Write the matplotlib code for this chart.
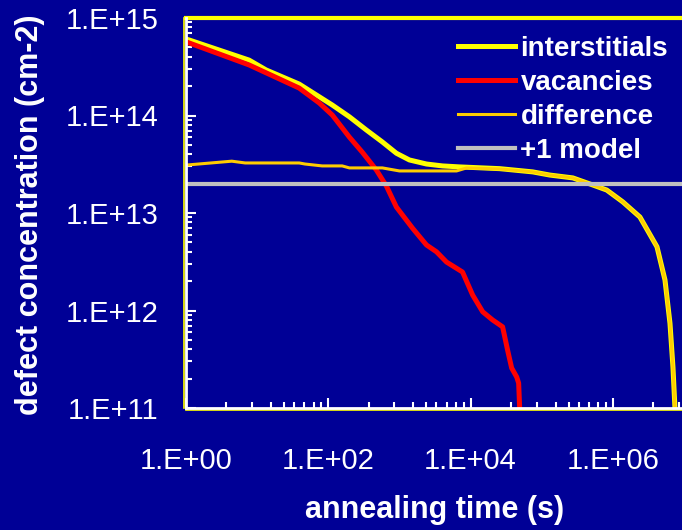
import numpy as np
import matplotlib
matplotlib.use('Agg')
import matplotlib.pyplot as plt
from matplotlib.ticker import FixedLocator, FuncFormatter, LogLocator, NullFormatter
from matplotlib.lines import Line2D
from matplotlib.transforms import offset_copy

plt.rcParams['font.family'] = ['Liberation Sans', 'DejaVu Sans']

# annealing time (s) and concentrations (cm-2)
vac_t = [1, 7.7, 39, 75, 114, 198, 301, 474, 656, 907, 1525, 2400, 3320, 4590,
         7710, 10700, 14800, 20400, 28200, 33200, 37800, 44500, 47400, 49000, 49500]
vac_c = [5.7e14, 3.3e14, 1.91e14, 1.34e14, 1.01e14, 6.0e13, 4.2e13, 2.76e13, 1.89e13,
         1.15e13, 7.0e12, 4.7e12, 4.0e12, 3.14e12, 2.48e12, 1.44e12, 9.7e11, 8.0e11,
         6.8e11, 3.9e11, 2.57e11, 2.08e11, 1.8e11, 1.0e11, 5e10]

dif_t = [1, 4.4, 6.8, 39, 47, 82, 157, 198, 576, 1000, 6350, 8790, 25600, 74700,
         1.3e5, 2.74e5, 5.2e5, 8.2e5, 1.38e6, 2.4e6, 4.17e6, 5.4e6, 6.35e6, 7.0e6,
         7.46e6, 7.5e6]
dif_c = [3.1e13, 3.4e13, 3.26e13, 3.26e13, 3.18e13, 3.04e13, 3.04e13, 2.9e13, 2.9e13,
         2.7e13, 2.7e13, 2.9e13, 2.83e13, 2.64e13, 2.45e13, 2.29e13, 1.94e13, 1.72e13,
         1.30e13, 9.1e12, 4.5e12, 2.06e12, 7.4e11, 2.6e11, 1.0e11, 5e10]

int_t = [1, 7.7, 13.4, 39, 114, 198, 343, 576, 907, 1380, 2400, 4030, 7000, 14800,
         25600, 74700, 1.3e5, 2.74e5, 5.2e5, 8.2e5, 1.38e6, 2.4e6, 4.17e6, 5.4e6,
         6.35e6, 7.0e6, 7.46e6, 7.5e6]
int_c = [6.1e14, 3.7e14, 2.93e14, 2.1e14, 1.28e14, 9.7e13, 7.1e13, 5.35e13, 4.1e13,
         3.5e13, 3.18e13, 3.04e13, 2.97e13, 2.9e13, 2.85e13, 2.64e13, 2.45e13, 2.29e13,
         1.94e13, 1.72e13, 1.30e13, 9.1e12, 4.5e12, 2.06e12, 7.4e11, 2.6e11, 1.0e11, 5e10]

model_t = [1, 1e7]
model_c = [2e13, 2e13]

bg = '#000096'
fig = plt.figure(figsize=(6.82, 5.3), dpi=100, facecolor=bg)
ax = fig.add_axes([186 / 682, 122 / 530, 498 / 682, 390 / 530])
ax.set_facecolor(bg)
ax.set_xscale('log')
ax.set_yscale('log')

ax.plot(int_t, int_c, color='#FFFF00', lw=3.6, label='interstitials')
ax.plot(vac_t, vac_c, color='#FF0000', lw=3.6, label='vacancies')
ax.plot(dif_t, dif_c, color='#FFCC00', lw=2.2, label='difference')
ax.plot(model_t, model_c, color='#C0C0C0', lw=3.0, label='+1 model')

ax.set_xlim(1, 1e7)
ax.set_ylim(1e11, 1e15)

# frame: yellow plot border, white axis lines
ax.spines['right'].set_visible(False)
ax.spines['top'].set_color('#FFFF00')
ax.spines['top'].set_linewidth(3)
for s in ['left', 'bottom']:
    ax.spines[s].set_color('white')
    ax.spines[s].set_linewidth(2)
    ax.spines[s].set_zorder(5)
tb = offset_copy(ax.transAxes, fig=fig, x=0, y=-2, units='dots')
ax.add_line(Line2D([0, 1], [0, 0], transform=tb, color='#FFFF00', lw=1.2, clip_on=False))
tl = offset_copy(ax.transAxes, fig=fig, x=-2, y=0, units='dots')
ax.add_line(Line2D([0, 0], [0, 1], transform=tl, color='#FFFF00', lw=1.2, clip_on=False))

fmt = FuncFormatter(lambda v, p: '1.E+%02d' % int(round(np.log10(v))))
ax.xaxis.set_major_locator(FixedLocator([1, 1e2, 1e4, 1e6]))
minor_mult = [3.7, 8.5, 15.7, 24, 33, 46, 62, 80]
ax.xaxis.set_minor_locator(FixedLocator([b * m for b in [1, 1e2, 1e4, 1e6] for m in minor_mult]))
ax.yaxis.set_major_locator(FixedLocator([1e11, 1e12, 1e13, 1e14, 1e15]))
ax.yaxis.set_minor_locator(LogLocator(base=10, subs=range(2, 10)))
ax.xaxis.set_major_formatter(fmt)
ax.yaxis.set_major_formatter(fmt)
ax.xaxis.set_minor_formatter(NullFormatter())
ax.yaxis.set_minor_formatter(NullFormatter())

ax.tick_params(which='both', direction='in', colors='white', labelsize=21, width=1.5)
ax.tick_params(which='major', length=7)
ax.tick_params(which='minor', length=4.5)
ax.tick_params(axis='x', which='both', pad=28)
ax.tick_params(axis='y', which='both', pad=20)

fig.text(30 / 682, 1 - 215 / 530, 'defect concentration (cm-2)', rotation=90,
         color='white', fontsize=22, fontweight='bold', ha='center', va='center')
fig.text(435 / 682, 1 - 510 / 530, 'annealing time (s)',
         color='white', fontsize=22, fontweight='bold', ha='center', va='center')

leg = ax.legend(loc='upper left', bbox_to_anchor=(458 / 682, 1 - 36 / 530),
                bbox_transform=fig.transFigure, frameon=False, fontsize=20,
                handlelength=2.05, handletextpad=0.2, labelspacing=0.29,
                borderpad=0, borderaxespad=0)
for t in leg.get_texts():
    t.set_color('white')
    t.set_fontweight('bold')

fig.savefig('out.png', dpi=100, facecolor=bg)
